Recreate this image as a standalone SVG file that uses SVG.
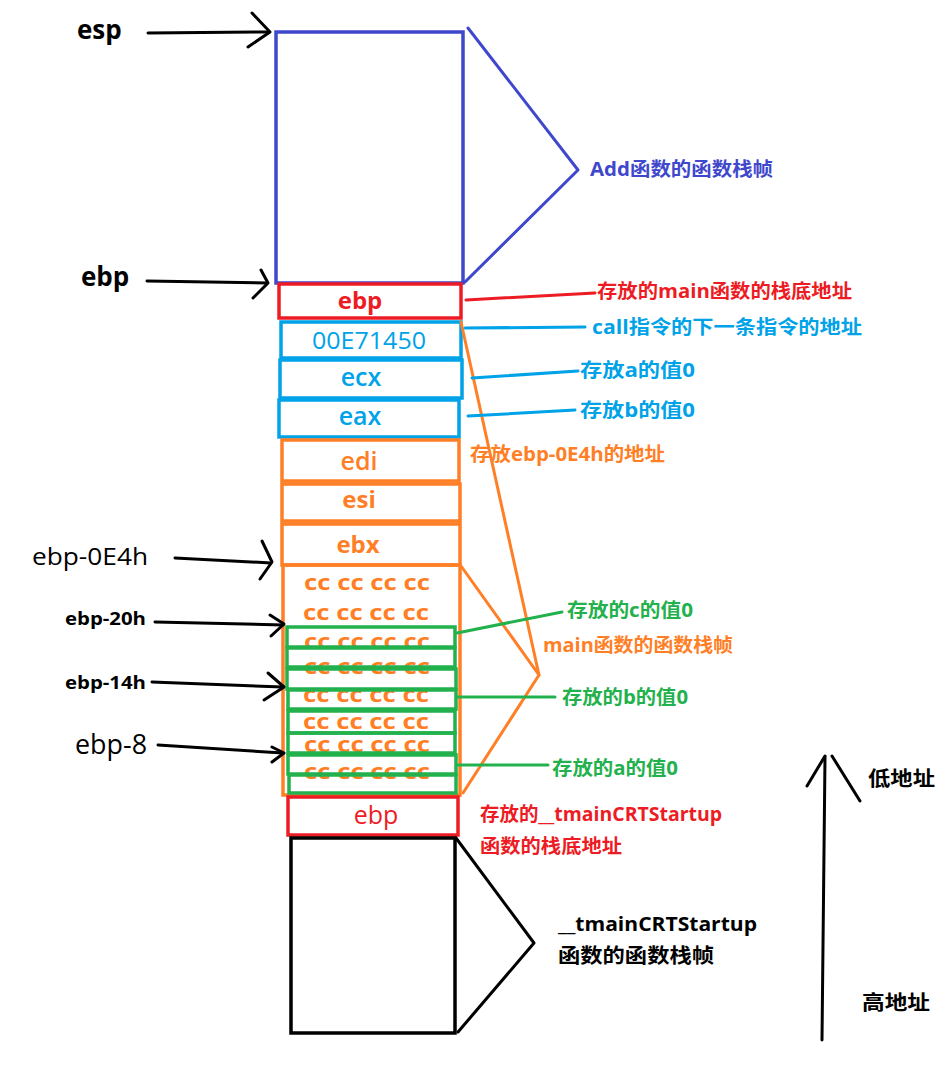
<svg xmlns="http://www.w3.org/2000/svg" width="949" height="1068" viewBox="0 0 949 1068">
<style>
text{font-family:"Open Sans","Noto Sans CJK SC",sans-serif;}
.b{font-weight:700;}
.m{font-weight:600;}
.c{text-anchor:middle;}
.box{fill:none;stroke-width:3.5;}
.ln{fill:none;stroke-width:3;stroke-linecap:round;stroke-linejoin:round;}
.blue{stroke:#3f48cc;} .tblue{fill:#3f48cc;}
.red{stroke:#ed1c24;} .tred{fill:#ed1c24;}
.cyan{stroke:#00a2e8;} .tcyan{fill:#00a2e8;}
.org{stroke:#ff7f27;} .torg{fill:#ff7f27;}
.grn{stroke:#22b14c;} .tgrn{fill:#22b14c;}
.blk{stroke:#000;} .tblk{fill:#000;}
.cc{font-size:21px;font-weight:700;fill:#ff7f27;text-anchor:middle;}
</style>
<rect width="949" height="1068" fill="#fff"/>

<g id="add-frame">
<rect class="box blue" x="276" y="32" width="187" height="251"/>
<text class="b tblue" x="590" y="176" font-size="19" textLength="183" lengthAdjust="spacingAndGlyphs">Add函数的函数栈帧</text>
</g>

<g id="ebp-main">
<rect class="box red" x="279" y="284" width="182" height="34"/>
<text class="b tred c" x="360" y="309" font-size="24">ebp</text>
<text class="b tred" x="597" y="298" font-size="19" textLength="255" lengthAdjust="spacingAndGlyphs">存放的main函数的栈底地址</text>
</g>

<g id="ret-addr">
<rect class="box cyan" x="281" y="322" width="180" height="36"/>
<text class="tcyan c" x="369" y="349" font-size="23" textLength="114" lengthAdjust="spacingAndGlyphs">00E71450</text>
<text class="b tcyan" x="592" y="334" font-size="19" textLength="270" lengthAdjust="spacingAndGlyphs">call指令的下一条指令的地址</text>
</g>

<g id="ecx">
<rect class="box cyan" x="280" y="360" width="182" height="38"/>
<text class="m tcyan c" x="361" y="386" font-size="25">ecx</text>
<text class="b tcyan" x="580" y="377" font-size="19" textLength="115" lengthAdjust="spacingAndGlyphs">存放a的值0</text>
</g>

<g id="eax">
<rect class="box cyan" x="279" y="400" width="180" height="37"/>
<text class="m tcyan c" x="360" y="425" font-size="25">eax</text>
<text class="b tcyan" x="580" y="417" font-size="19" textLength="115" lengthAdjust="spacingAndGlyphs">存放b的值0</text>
</g>

<g id="edi">
<rect class="box org" x="282" y="440" width="177" height="41"/>
<text class="m torg c" x="359" y="470" font-size="25">edi</text>
<text class="b torg" x="470" y="461" font-size="19" textLength="195" lengthAdjust="spacingAndGlyphs">存放ebp-0E4h的地址</text>
</g>

<g id="esi">
<rect class="box org" x="282" y="484" width="178" height="37"/>
<text class="b torg c" x="359" y="508" font-size="24">esi</text>
</g>

<g id="ebx">
<rect class="box org" x="282" y="524" width="178" height="41"/>
<text class="b torg c" x="358" y="553" font-size="24">ebx</text>
</g>

<g id="locals">
<rect class="box org" x="283" y="565" width="177" height="230"/>
<text class="cc" x="367" y="590" textLength="126" lengthAdjust="spacingAndGlyphs">cc cc cc cc</text>
<text class="cc" x="366" y="620" textLength="126" lengthAdjust="spacingAndGlyphs">cc cc cc cc</text>
<text class="cc" x="367" y="649" textLength="126" lengthAdjust="spacingAndGlyphs">cc cc cc cc</text>
<text class="cc" x="367" y="674" textLength="126" lengthAdjust="spacingAndGlyphs">cc cc cc cc</text>
<text class="cc" x="366" y="702" textLength="126" lengthAdjust="spacingAndGlyphs">cc cc cc cc</text>
<text class="cc" x="366" y="729" textLength="126" lengthAdjust="spacingAndGlyphs">cc cc cc cc</text>
<text class="cc" x="367" y="752" textLength="126" lengthAdjust="spacingAndGlyphs">cc cc cc cc</text>
<text class="cc" x="367" y="779" textLength="126" lengthAdjust="spacingAndGlyphs">cc cc cc cc</text>
<g class="box grn">
<rect x="287" y="627" width="168" height="20"/>
<rect x="287" y="648" width="168" height="19"/>
<rect x="287" y="669" width="169" height="20"/>
<rect x="288" y="690" width="168" height="19"/>
<rect x="288" y="711" width="167" height="22"/>
<rect x="288" y="733" width="167" height="20"/>
<rect x="288" y="755" width="168" height="19"/>
<rect x="289" y="775" width="167" height="18"/>
</g>
<text class="b torg" x="543" y="652" font-size="19" textLength="190" lengthAdjust="spacingAndGlyphs">main函数的函数栈帧</text>
<text class="b tgrn" x="567" y="617" font-size="19" textLength="126" lengthAdjust="spacingAndGlyphs">存放的c的值0</text>
<text class="b tgrn" x="562" y="704" font-size="19" textLength="126" lengthAdjust="spacingAndGlyphs">存放的b的值0</text>
<text class="b tgrn" x="552" y="775" font-size="19" textLength="126" lengthAdjust="spacingAndGlyphs">存放的a的值0</text>
</g>

<g id="ebp-crt">
<rect class="box red" x="288" y="797" width="170" height="38"/>
<text class="tred c" x="376" y="824" font-size="25">ebp</text>
<text class="b tred" x="480" y="821" font-size="19" textLength="242" lengthAdjust="spacingAndGlyphs">存放的__tmainCRTStartup</text>
<text class="b tred" x="480" y="853" font-size="19" textLength="142" lengthAdjust="spacingAndGlyphs">函数的栈底地址</text>
</g>

<g id="crt-frame">
<rect class="box blk" x="291" y="838" width="164" height="195"/>
<text class="b tblk" x="558" y="931" font-size="20" textLength="199" lengthAdjust="spacingAndGlyphs">__tmainCRTStartup</text>
<text class="b tblk" x="558" y="963" font-size="20" textLength="156" lengthAdjust="spacingAndGlyphs">函数的函数栈帧</text>
</g>

<g id="pointer-labels">
<text class="b tblk" x="77" y="39" font-size="26">esp</text>
<text class="b tblk" x="81" y="286" font-size="26">ebp</text>
<text class="tblk" x="32" y="565" font-size="24" textLength="116" lengthAdjust="spacingAndGlyphs">ebp-0E4h</text>
<text class="b tblk" x="65" y="625" font-size="18" textLength="81" lengthAdjust="spacingAndGlyphs">ebp-20h</text>
<text class="b tblk" x="65" y="689" font-size="18" textLength="81" lengthAdjust="spacingAndGlyphs">ebp-14h</text>
<text class="tblk" x="75" y="754" font-size="27" textLength="72" lengthAdjust="spacingAndGlyphs">ebp-8</text>
</g>

<g id="address-axis">
<text class="b tblk" x="868" y="786" font-size="20" textLength="67" lengthAdjust="spacingAndGlyphs">低地址</text>
<text class="b tblk" x="862" y="1010" font-size="20" textLength="68" lengthAdjust="spacingAndGlyphs">高地址</text>
</g>

<g id="connectors">
<polyline class="ln blue" points="468,28 578,170 465,282"/>
<polyline class="ln org" points="461,322 539,675 463,793"/>
<line class="ln org" x1="461" y1="566" x2="539" y2="675"/>
<polyline class="ln blk" points="456,838 534,943 458,1032"/>
<line class="ln red" x1="466" y1="300" x2="595" y2="293"/>
<line class="ln cyan" x1="465" y1="328" x2="585" y2="327"/>
<line class="ln cyan" x1="472" y1="378" x2="578" y2="371"/>
<line class="ln cyan" x1="468" y1="416" x2="575" y2="410"/>
<line class="ln grn" x1="457" y1="633" x2="562" y2="612"/>
<line class="ln grn" x1="457" y1="697" x2="555" y2="697"/>
<line class="ln grn" x1="458" y1="765" x2="548" y2="765"/>
<g class="ln blk" stroke-width="4">
<line x1="148" y1="33" x2="269" y2="32"/>
<polyline points="252,13 270,32 248,47"/>
<line x1="147" y1="281" x2="267" y2="283"/>
<polyline points="261,270 268,283 253,298"/>
<line x1="175" y1="558" x2="271" y2="563"/>
<polyline points="262,541 272,562 260,579"/>
<line x1="155" y1="622" x2="283" y2="625"/>
<polyline points="270,615 284,624 271,636"/>
<line x1="152" y1="682" x2="283" y2="687"/>
<polyline points="268,673 284,687 264,700"/>
<line x1="158" y1="745" x2="283" y2="753"/>
<polyline points="272,747 284,753 272,762"/>
</g>
<g class="ln blk" stroke-width="4">
<line x1="822" y1="1040" x2="825" y2="757"/>
<line x1="807" y1="786" x2="825" y2="756"/>
<line x1="832" y1="756" x2="860" y2="801"/>
</g>
</g>
</svg>
